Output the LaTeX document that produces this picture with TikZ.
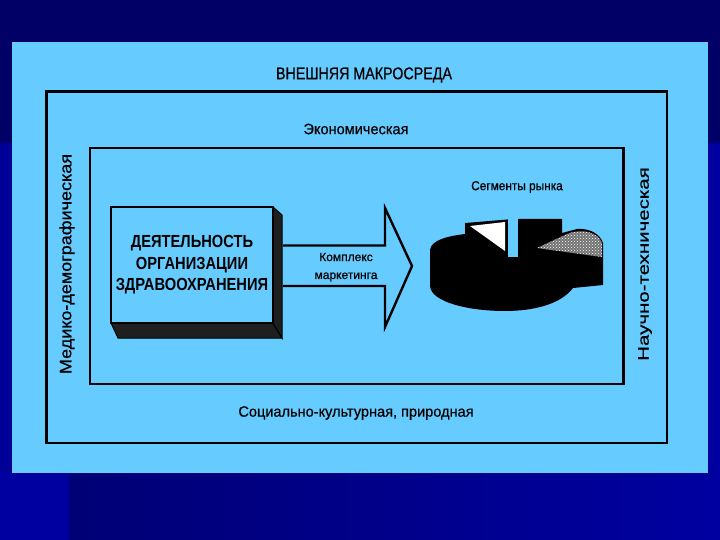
\documentclass[tikz,border=0pt]{standalone}
\usepackage{fontspec}
\setmainfont{Liberation Sans}
\newfontfamily\ftitle[FakeStretch=0.84,FakeBold=0.6]{Liberation Sans}
\newfontfamily\fa[FakeStretch=0.97,FakeBold=0.6]{Liberation Sans}
\newfontfamily\fmed[FakeStretch=1.09,FakeBold=0.6]{Liberation Sans}
\newfontfamily\fsci[FakeStretch=1.32,FakeBold=0.6]{Liberation Sans}
\newfontfamily\fk[FakeStretch=1.0,FakeBold=0.8]{Liberation Sans}
\newfontfamily\fseg[FakeStretch=0.91,FakeBold=0.6]{Liberation Sans}
\newfontfamily\condbf[FakeStretch=0.84]{Liberation Sans Bold}
\usetikzlibrary{patterns}
\definecolor{navy}{HTML}{000066}
\definecolor{navylow}{HTML}{000088}
\definecolor{bluestrip}{HTML}{0000A0}
\definecolor{panel}{HTML}{66CCFF}
\tikzset{
  frame/.style={draw=black, line width=2.6pt},
  lbl/.style={inner sep=0pt, font=\fa\fontsize{15}{17}\selectfont},
  small/.style={inner sep=0pt, font=\fk\fontsize{12}{14}\selectfont},
  face/.style={fill=black!88, draw=black, line width=1pt},
}
\begin{document}
\begin{tikzpicture}[x=1pt,y=-1pt]
\useasboundingbox (0,0) rectangle (720,540);
% background
\fill[navy] (0,0) rectangle (720,540);
\shade[left color=navy!90!blue, right color=bluestrip] (69,473) rectangle (720,540);
\fill[bluestrip] (0,473) rectangle (69,540);
\fill[bluestrip!85!navy] (0,143) rectangle (12,473);
\fill[bluestrip] (708,143) rectangle (720,473);
\fill[panel] (12,42.5) rectangle (708,473);
% frames
\draw[frame] (46.5,91.5) rectangle (667,443);
\draw[frame] (90,148) rectangle (623.5,384);
% frame labels
\node[lbl, font=\ftitle\fontsize{17}{19}\selectfont] (macro) at (364,75) {ВНЕШНЯЯ МАКРОСРЕДА};
\node[lbl] (econ) at (356,129) {Экономическая};
\node[lbl] (soc) at (356,413) {Социально-культурная, природная};
\node[lbl, rotate=90, font=\fmed\fontsize{16.5}{18}\selectfont] (med) at (67,264) {Медико-демографическая};
\node[lbl, rotate=90, font=\fsci\fontsize{15.5}{17}\selectfont] (sci) at (645,264) {Научно-техническая};
% 3D box
\fill[face] (111,323) -- (273,323) -- (282,338) -- (118,338) -- cycle;
\fill[face] (273,207) -- (282,215) -- (282,338) -- (273,323) -- cycle;
\node[draw=black, line width=2.6pt, fill=panel, minimum width=162pt, minimum height=116pt, inner sep=0pt,
      align=center, font=\condbf\fontsize{17.5}{21.5}\selectfont] (org) at (192,265)
  {ДЕЯТЕЛЬНОСТЬ\\ОРГАНИЗАЦИИ\\ЗДРАВООХРАНЕНИЯ};
% block arrow
\draw[black, line width=2.4pt, line join=miter]
  (283,245.5) -- (385,245.5) -- (385,208) -- (412,266) -- (385,327) -- (385,286) -- (283,286);
\node[small] (k1) at (346,257) {Комплекс};
\node[small] (k2) at (346,277) {маркетинга};
% pie
\node[lbl, font=\fseg\fontsize{13}{15}\selectfont] (seg) at (517,187) {Сегменты рынка};
\fill[black] (430,250) .. controls (431,240) and (448,236) .. (465,234)
  -- (465,223) -- (507,219.5) -- (518,219) -- (562,219) -- (562,233)
  -- (577,229) .. controls (590,228) and (600,234) .. (603,243)
  -- (603,285) -- (573,288) .. controls (560,305) and (532,311) .. (505,311)
  .. controls (468,311) and (431,302) .. (430,286) -- cycle;
\fill[white] (470,226) -- (505,222) -- (505,251) -- cycle;
\fill[panel] (507.5,218) rectangle (517.5,257);
\fill[black!55] (537,248) -- (567,234) .. controls (582,228) and (598,232) .. (602,243) -- (602,257) -- cycle;
\fill[pattern=crosshatch dots, pattern color=white] (537,248) -- (567,234) .. controls (582,228) and (598,232) .. (602,243) -- (602,257) -- cycle;
\end{tikzpicture}
\end{document}
